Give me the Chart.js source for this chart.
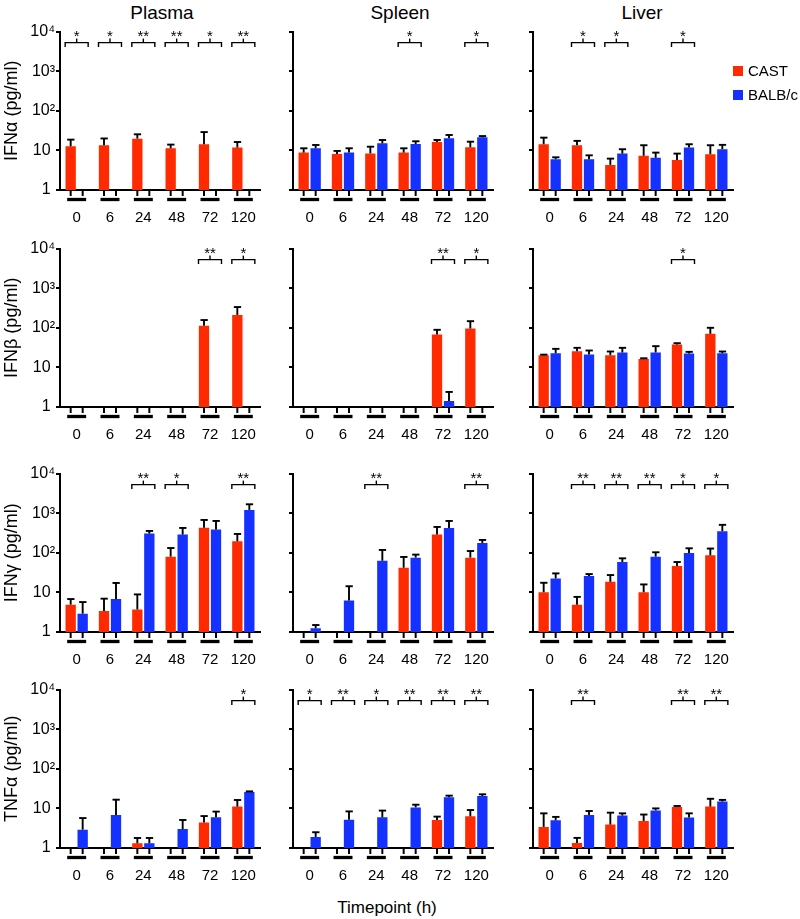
<!DOCTYPE html>
<html>
<head>
<meta charset="utf-8">
<script src="https://cdn.jsdelivr.net/npm/chart.js@4.4.1/dist/chart.umd.min.js"></script>
<style>
    body { margin: 0; background: #fff; font-family: "Liberation Sans", Arial, Helvetica, sans-serif; }
    #fig { position: relative; width: 800px; height: 919px; overflow: hidden; background: #fff; }
    #fig canvas { position: absolute; }
    .lbl { position: absolute; color: #000; white-space: nowrap; line-height: 1; transform: translate(-50%, -50%); }
    .key { position: absolute; width: 10px; height: 10px; }
    .keytxt { position: absolute; color: #000; font-size: 15px; line-height: 18px; white-space: nowrap; }
</style>
</head>
<body>
<div id="fig">
    <div class="lbl" style="left:162px;top:12px;font-size:19px;">Plasma</div>
    <div class="lbl" style="left:400px;top:12px;font-size:19px;">Spleen</div>
    <div class="lbl" style="left:642px;top:12px;font-size:19px;">Liver</div>
    <div class="lbl" style="left:387px;top:907px;font-size:17px;">Timepoint (h)</div>
</div>
<script>
(function () {
    "use strict";

    const timepoints = ["0", "6", "24", "48", "72", "120"];
    const yTicks = [1, 10, 100, 1000, 10000];
    const yTickLabels = ["1 ", "10 ", "10²", "10³", "10⁴"];
    const seriesNames = ["CAST", "BALB/c"];
    const RED = "#ff2a00";
    const BLUE = "#1431ff";

    // IFNα
    const ifnaPlasmaCast = [12.7, 13.5, 19.8, 11.3, 14.3, 11.8];
    const ifnaPlasmaCastErr = [18.7, 20, 25.5, 14, 29, 16.3];
    const ifnaPlasmaBalb = [null, null, null, null, null, null];
    const ifnaPlasmaBalbErr = [null, null, null, null, null, null];
    const ifnaPlasmaSig = ["*", "*", "**", "**", "*", "**"];

    const ifnaSpleenCast = [8.8, 8.1, 8.4, 8.8, 16.3, 12];
    const ifnaSpleenCastErr = [11.3, 9.7, 12.4, 11.3, 18.3, 16.6];
    const ifnaSpleenBalb = [11.3, 8.8, 15.1, 14.5, 20.2, 21.4];
    const ifnaSpleenBalbErr = [13.7, 11.3, 18.3, 17, 24.5, 23];
    const ifnaSpleenSig = ["", "", "", "*", "", "*"];

    const ifnaLiverCast = [14.3, 13.5, 4.3, 7.3, 5.75, 8];
    const ifnaLiverCastErr = [21, 17.4, 6.2, 13.5, 8.3, 13.5];
    const ifnaLiverBalb = [6, 6, 8.3, 6.5, 11.8, 10.7];
    const ifnaLiverBalbErr = [6.7, 7.5, 10.7, 8.8, 14.3, 13.8];
    const ifnaLiverSig = ["", "*", "*", "", "*", ""];

    // IFNβ
    const ifnbPlasmaCast = [null, null, null, null, 113, 210];
    const ifnbPlasmaCastErr = [null, null, null, null, 157, 334];
    const ifnbPlasmaBalb = [null, null, null, null, null, null];
    const ifnbPlasmaBalbErr = [null, null, null, null, null, null];
    const ifnbPlasmaSig = ["", "", "", "", "**", "*"];

    const ifnbSpleenCast = [null, null, null, null, 68, 96];
    const ifnbSpleenCastErr = [null, null, null, null, 89, 147];
    const ifnbSpleenBalb = [null, null, null, null, 1.42, null];
    const ifnbSpleenBalbErr = [null, null, null, null, 2.4, null];
    const ifnbSpleenSig = ["", "", "", "", "**", "*"];

    const ifnbLiverCast = [20.3, 25.7, 20.3, 16.4, 37.9, 70.5];
    const ifnbLiverCastErr = [21, 31.2, 25.2, 17, 40.9, 100];
    const ifnbLiverBalb = [22.8, 21.1, 23.8, 23.8, 22.4, 22.8];
    const ifnbLiverBalbErr = [29.4, 26.7, 31.2, 34.4, 24.7, 25.2];
    const ifnbLiverSig = ["", "", "", "", "*", ""];

    // IFNγ
    const ifngPlasmaCast = [4.9, 3.4, 3.7, 80, 432, 195];
    const ifngPlasmaCastErr = [6.8, 6.95, 8.9, 132, 675, 299];
    const ifngPlasmaBalb = [2.9, 6.8, 305, 288, 385, 1208];
    const ifngPlasmaBalbErr = [5.7, 17.3, 356, 424, 637, 1680];
    const ifngPlasmaSig = ["", "", "**", "*", "", "**"];

    const ifngSpleenCast = [null, null, null, 42, 288, 75.5];
    const ifngSpleenCastErr = [null, null, null, 78.5, 450, 111];
    const ifngSpleenBalb = [1.24, 6.2, 63, 75.5, 424, 177];
    const ifngSpleenBalbErr = [1.5, 14.3, 118, 90, 637, 211];
    const ifngSpleenSig = ["", "", "**", "", "", "**"];

    const ifngLiverCast = [10.1, 4.9, 18.5, 10.1, 46.3, 86.4];
    const ifngLiverCastErr = [17.5, 7.7, 27.4, 15.9, 58.5, 128];
    const ifngLiverBalb = [22.5, 25.8, 58.5, 80, 99, 351];
    const ifngLiverBalbErr = [30.2, 29, 72.5, 103, 130, 508];
    const ifngLiverSig = ["", "**", "**", "**", "*", "*"];

    // TNFα
    const tnfaPlasmaCast = [null, null, 1.31, null, 4.4, 11.1];
    const tnfaPlasmaCastErr = [null, null, 1.79, null, 6.4, 16.3];
    const tnfaPlasmaBalb = [2.9, 6.8, 1.31, 3.0, 5.95, 26];
    const tnfaPlasmaBalbErr = [5.7, 16.6, 1.79, 5.1, 8.3, 26.9];
    const tnfaPlasmaSig = ["", "", "", "", "", "*"];

    const tnfaSpleenCast = [null, null, null, null, 5.1, 6.3];
    const tnfaSpleenCastErr = [null, null, null, null, 6.2, 9.1];
    const tnfaSpleenBalb = [1.9, 5.2, 5.95, 10.6, 19, 20.6];
    const tnfaSpleenBalbErr = [2.5, 8.4, 8.8, 12.4, 21, 22.7];
    const tnfaSpleenSig = ["*", "**", "*", "**", "**", "**"];

    const tnfaLiverCast = [3.4, 1.34, 3.9, 4.8, 10.9, 11.1];
    const tnfaLiverCastErr = [7.5, 1.8, 7.8, 7.0, 11.5, 17.5];
    const tnfaLiverBalb = [5.0, 6.8, 6.6, 8.9, 5.9, 14.9];
    const tnfaLiverBalbErr = [6.1, 8.6, 7.5, 10, 7.5, 16.4];
    const tnfaLiverSig = ["", "**", "", "", "**", "**"];

    const panels = [
        { row: 0, col: 0, yTitle: "IFNα (pg/ml)", cast: ifnaPlasmaCast, castErr: ifnaPlasmaCastErr, balb: ifnaPlasmaBalb, balbErr: ifnaPlasmaBalbErr, sig: ifnaPlasmaSig },
        { row: 0, col: 1, cast: ifnaSpleenCast, castErr: ifnaSpleenCastErr, balb: ifnaSpleenBalb, balbErr: ifnaSpleenBalbErr, sig: ifnaSpleenSig },
        { row: 0, col: 2, cast: ifnaLiverCast, castErr: ifnaLiverCastErr, balb: ifnaLiverBalb, balbErr: ifnaLiverBalbErr, sig: ifnaLiverSig },
        { row: 1, col: 0, yTitle: "IFNβ (pg/ml)", cast: ifnbPlasmaCast, castErr: ifnbPlasmaCastErr, balb: ifnbPlasmaBalb, balbErr: ifnbPlasmaBalbErr, sig: ifnbPlasmaSig },
        { row: 1, col: 1, cast: ifnbSpleenCast, castErr: ifnbSpleenCastErr, balb: ifnbSpleenBalb, balbErr: ifnbSpleenBalbErr, sig: ifnbSpleenSig },
        { row: 1, col: 2, cast: ifnbLiverCast, castErr: ifnbLiverCastErr, balb: ifnbLiverBalb, balbErr: ifnbLiverBalbErr, sig: ifnbLiverSig },
        { row: 2, col: 0, yTitle: "IFNγ (pg/ml)", cast: ifngPlasmaCast, castErr: ifngPlasmaCastErr, balb: ifngPlasmaBalb, balbErr: ifngPlasmaBalbErr, sig: ifngPlasmaSig },
        { row: 2, col: 1, cast: ifngSpleenCast, castErr: ifngSpleenCastErr, balb: ifngSpleenBalb, balbErr: ifngSpleenBalbErr, sig: ifngSpleenSig },
        { row: 2, col: 2, cast: ifngLiverCast, castErr: ifngLiverCastErr, balb: ifngLiverBalb, balbErr: ifngLiverBalbErr, sig: ifngLiverSig },
        { row: 3, col: 0, yTitle: "TNFα (pg/ml)", cast: tnfaPlasmaCast, castErr: tnfaPlasmaCastErr, balb: tnfaPlasmaBalb, balbErr: tnfaPlasmaBalbErr, sig: tnfaPlasmaSig },
        { row: 3, col: 1, cast: tnfaSpleenCast, castErr: tnfaSpleenCastErr, balb: tnfaSpleenBalb, balbErr: tnfaSpleenBalbErr, sig: tnfaSpleenSig },
        { row: 3, col: 2, cast: tnfaLiverCast, castErr: tnfaLiverCastErr, balb: tnfaLiverBalb, balbErr: tnfaLiverBalbErr, sig: tnfaLiverSig },
    ];

    // panel grid
    const rowTop = [31, 248, 473, 689];
    const axisX = [60, 293, 533];
    const plotW = 200;
    const plotH = 159;
    const padTop = 10;
    const padRight = 8;
    const xAxisH = 35;

    Chart.defaults.font.family = '"Liberation Sans", Arial, Helvetica, sans-serif';
    Chart.defaults.color = "#000";

    function line(ctx, x1, y1, x2, y2) {
        ctx.beginPath();
        ctx.moveTo(x1, y1);
        ctx.lineTo(x2, y2);
        ctx.stroke();
    }

    // error bars, axis ticks under bars, group underlines, significance brackets
    function decor(sig) {
        return {
            id: "decor",
            afterDatasetsDraw(chart) {
                const { ctx, chartArea: a, scales } = chart;
                const x = scales.x, y = scales.y;
                ctx.save();
                ctx.strokeStyle = "#000";
                ctx.fillStyle = "#000";
                ctx.lineCap = "butt";

                chart.data.datasets.forEach((ds, di) => {
                    const meta = chart.getDatasetMeta(di);
                    meta.data.forEach((bar, i) => {
                        // tick under axis at each bar slot
                        ctx.lineWidth = 2;
                        line(ctx, bar.x, a.bottom, bar.x, a.bottom + 6);
                        const v = ds.data[i], e = ds.errorBars[i];
                        if (v == null || e == null) return;
                        const yt = y.getPixelForValue(e);
                        ctx.lineWidth = 1.9;
                        line(ctx, bar.x, bar.y, bar.x, yt);
                        line(ctx, bar.x - 3.5, yt, bar.x + 3.8, yt);
                    });
                });

                timepoints.forEach((t, i) => {
                    const cx = x.getPixelForValue(i);
                    ctx.lineWidth = 3.3;
                    line(ctx, cx - 9.5, a.bottom + 9.5, cx + 9.5, a.bottom + 9.5);

                    if (!sig[i]) return;
                    const ly = a.top + 11;
                    const l = cx - 11.5, r = cx + 11.5;
                    ctx.lineWidth = 1.4;
                    ctx.beginPath();
                    ctx.moveTo(l, ly + 4.5);
                    ctx.lineTo(l, ly);
                    ctx.lineTo(r, ly);
                    ctx.lineTo(r, ly + 4.5);
                    ctx.stroke();
                    line(ctx, cx, ly, cx, ly - 4);
                    ctx.font = '15px "Liberation Sans", Arial, sans-serif';
                    ctx.textAlign = "center";
                    ctx.textBaseline = "alphabetic";
                    ctx.fillText(sig[i], cx, ly - 1.5);
                });
                ctx.restore();
            },
        };
    }

    const fig = document.getElementById("fig");

    panels.forEach((p) => {
        const yW = p.col === 0 ? 60 : 20;
        const cv = document.createElement("canvas");
        const w = yW + plotW + padRight;
        const h = padTop + plotH + xAxisH;
        cv.width = w;
        cv.height = h;
        cv.style.left = axisX[p.col] - yW + "px";
        cv.style.top = rowTop[p.row] - padTop + "px";
        cv.style.width = w + "px";
        cv.style.height = h + "px";
        fig.appendChild(cv);

        new Chart(cv.getContext("2d"), {
            type: "bar",
            data: {
                labels: timepoints,
                datasets: [
                    { label: seriesNames[0], data: p.cast, errorBars: p.castErr, backgroundColor: RED },
                    { label: seriesNames[1], data: p.balb, errorBars: p.balbErr, backgroundColor: BLUE },
                ],
            },
            options: {
                responsive: false,
                animation: false,
                devicePixelRatio: 1,
                events: [],
                categoryPercentage: 0.72,
                barPercentage: 0.86,
                layout: {
                    padding: { top: padTop, right: padRight, left: 0, bottom: 0 },
                },
                plugins: {
                    legend: { display: false },
                    tooltip: { enabled: false },
                },
                scales: {
                    x: {
                        grid: { display: false },
                        border: { color: "#000", width: 2 },
                        ticks: {
                            color: "#000",
                            font: { size: 15 },
                            padding: 11,
                            maxRotation: 0,
                        },
                        afterFit: (s) => { s.height = xAxisH; },
                    },
                    y: {
                        type: "logarithmic",
                        min: 1,
                        max: 10000,
                        afterBuildTicks: (s) => {
                            s.ticks = yTicks.map((v) => ({ value: v, major: true }));
                        },
                        afterFit: (s) => { s.width = yW; },
                        grid: {
                            drawOnChartArea: false,
                            color: "#000",
                            lineWidth: 2,
                            tickLength: 4,
                        },
                        border: { color: "#000", width: 2 },
                        ticks: {
                            color: "#000",
                            font: { size: 16 },
                            padding: 1,
                            callback: (value, index) => (p.col === 0 ? yTickLabels[index] : ""),
                        },
                        title: {
                            display: p.col === 0,
                            text: p.yTitle || "",
                            color: "#000",
                            font: { size: 18 },
                            padding: { top: 1, bottom: 0 },
                        },
                    },
                },
            },
            plugins: [decor(p.sig)],
        });
    });

    // legend (top right)
    const keys = [
        { name: seriesNames[0], color: RED, top: 66 },
        { name: seriesNames[1], color: BLUE, top: 90 },
    ];
    keys.forEach((k) => {
        const sq = document.createElement("div");
        sq.className = "key";
        sq.style.left = "733px";
        sq.style.top = k.top + "px";
        sq.style.background = k.color;
        fig.appendChild(sq);
        const tx = document.createElement("div");
        tx.className = "keytxt";
        tx.style.left = "748px";
        tx.style.top = k.top - 4 + "px";
        tx.textContent = k.name;
        fig.appendChild(tx);
    });
})();
</script>
</body>
</html>
